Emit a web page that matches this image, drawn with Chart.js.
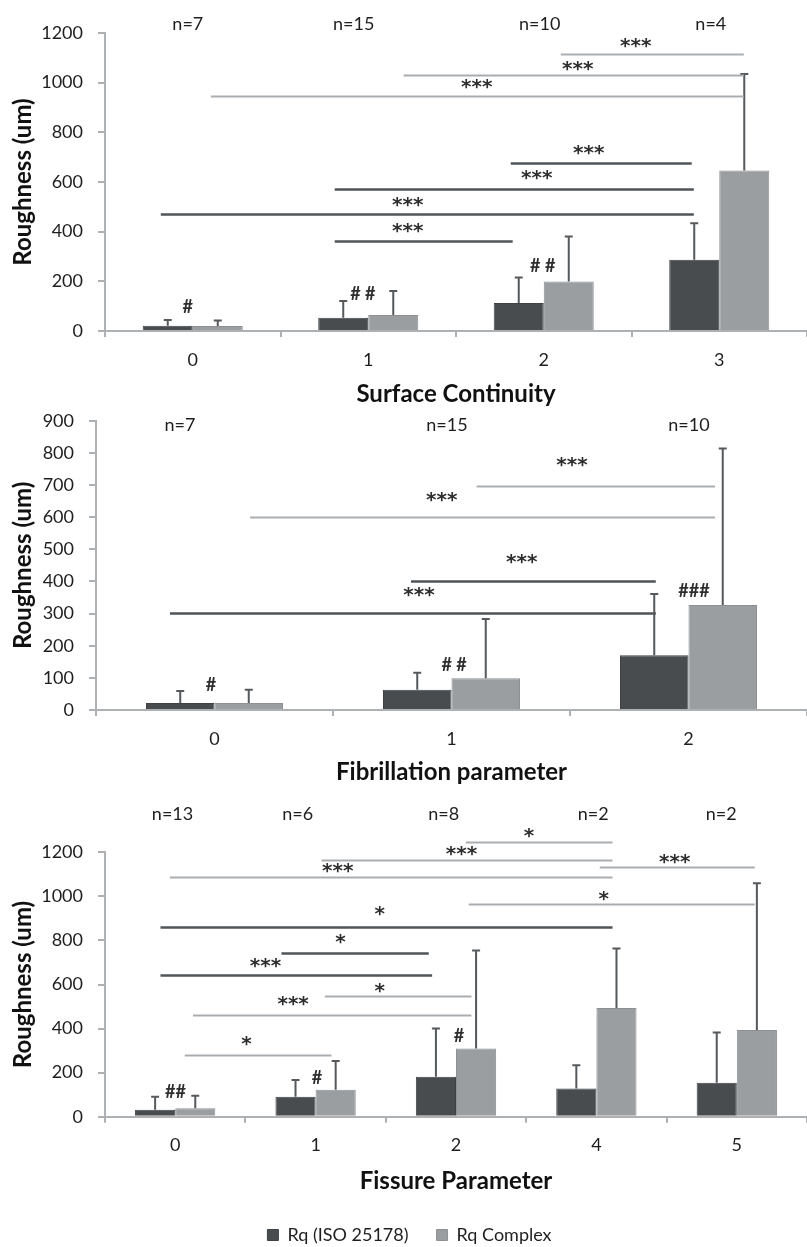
<!DOCTYPE html>
<html><head><meta charset="utf-8">
<script src="https://cdn.jsdelivr.net/npm/chart.js@4.4.1/dist/chart.umd.min.js"></script>
<style>
html,body{margin:0;padding:0;background:#fff;overflow:hidden;}
#wrap{position:relative;width:807px;height:1247px;overflow:hidden;background:#fff;}
canvas{position:absolute;left:0;}
</style></head><body>
<div id="wrap">
<canvas id="c1" width="807" height="410" style="top:0px"></canvas>
<canvas id="c2" width="807" height="395" style="top:395px"></canvas>
<canvas id="c3" width="807" height="464" style="top:790px"></canvas>
</div>
<script>
// ---------- DATA ----------
const seriesNames = ['Rq (ISO 25178)', 'Rq Complex'];

// Panel 1: Surface Continuity
const surfCats = ['0', '1', '2', '3'];
const surfRq   = [21, 53, 113, 287];
const surfRqSD = [23, 68, 102, 147];
const surfCx   = [20, 64, 199, 646];
const surfCxSD = [22, 97, 182, 389];
const surfN    = ['n=7', 'n=15', 'n=10', 'n=4'];
const surfNX   = [-0.028, 0.917, 1.977, 2.952];
const surfNY   = 1240;
// [x1, x2, y, tone, label, labelX, labelY]  (x in category units, y in um)
const surfSig = [
  [2.097, 3.140, 1114, 'L', '***', 2.524, 1160],
  [1.202, 3.140, 1031, 'L', '***', 2.194, 1068],
  [0.103, 3.140,  946, 'L', '***', 1.618,  995],
  [1.812, 2.843,  675, 'D', '***', 2.256,  729],
  [0.809, 2.855,  572, 'D', '***', 1.960,  628],
  [-0.182, 2.855, 470, 'D', '***', 1.225,  520],
  [0.809, 1.823,  362, 'D', '***', 1.225,  415]
];
// [text, x, y]
const surfHash = [['#', -0.028, 101], ['# #', 0.969, 153], ['# #', 1.994, 266]];

// Panel 2: Fibrillation parameter
const fibCats = ['0', '1', '2'];
const fibRq   = [22, 63, 170];
const fibRqSD = [37, 53, 191];
const fibCx   = [22, 99, 327];
const fibCxSD = [41, 184, 487];
const fibN    = ['n=7', 'n=15', 'n=10'];
const fibNX   = [-0.146, 0.981, 2.002];
const fibNY   = 887;
const fibSig = [
  [-0.188, 1.862, 303, 'D', '***', 0.863, 367],
  [0.829, 1.862, 401, 'D', '***', 1.296, 470],
  [0.150, 2.112, 600, 'L', '***', 0.959, 664],
  [1.106, 2.112, 696, 'L', '***', 1.508, 771]
];
const fibHash = [['#', -0.015, 82], ['# #', 1.011, 143], ['###', 2.023, 373]];

// Panel 3: Fissure Parameter
const fisCats = ['0', '1', '2', '4', '5'];
const fisRq   = [32, 90, 181, 128, 154];
const fisRqSD = [58, 76, 219, 106, 228];
const fisCx   = [38, 122, 309, 493, 393];
const fisCxSD = [57, 131, 445, 270, 667];
const fisN    = ['n=13', 'n=6', 'n=8', 'n=2', 'n=2'];
const fisNX   = [-0.019, 0.873, 1.913, 2.977, 3.889];
const fisNY   = 1377;
const fisSig = [
  [2.070, 3.115, 1246, 'L', '*',   2.519, 1286],
  [1.042, 3.115, 1166, 'L', '***', 2.039, 1206],
  [3.024, 4.128, 1132, 'L', '***', 3.558, 1171],
  [-0.038, 3.115, 1090, 'L', '***', 1.158, 1131],
  [2.091, 4.128,  965, 'L', '*',   3.053, 1000],
  [-0.105, 3.115, 859, 'D', '*',   1.457,  935],
  [0.757, 1.806,  743, 'D', '*',   1.177,  808],
  [-0.105, 1.830, 642, 'D', '***', 0.643,  698],
  [1.066, 2.110,  547, 'L', '*',   1.457,  585],
  [0.127, 2.110,  461, 'L', '***', 0.840,  525],
  [0.068, 1.113,  279, 'L', '*',   0.508,  344]
];
const fisHash = [['##', 0.002, 116], ['#', 1.009, 179], ['#', 2.021, 370]];

// ---------- STYLE ----------
const FONT = 'Lato, "Open Sans", sans-serif';
const DARK = '#484c4f', DARK_B = '#3e4245';
const LIGHT = '#9a9ea1', LIGHT_B = '#8d9194';
const AXIS = '#adb1b4';
const TXT = '#1e1e1e';
const SIG_D = '#4f5458', SIG_L = '#a9adb0';
const ERR = '#55595c';

function drawCentered(ctx, text, x, y, font, color) {
  ctx.font = font; ctx.fillStyle = color;
  ctx.textAlign = 'center'; ctx.textBaseline = 'alphabetic';
  const m = ctx.measureText(text);
  ctx.fillText(text, x, y + (m.actualBoundingBoxAscent - m.actualBoundingBoxDescent) / 2);
}

function annotPlugin(spec) {
  return {
    id: 'annot',
    afterDatasetsDraw(chart) {
      const ctx = chart.ctx, xs = chart.scales.x, ys = chart.scales.y;
      ctx.save();
      // error bars (upper only)
      [spec.rqSD, spec.cxSD].forEach((sd, di) => {
        const meta = chart.getDatasetMeta(di);
        const vals = chart.data.datasets[di].data;
        meta.data.forEach((bar, i) => {
          const yTop = ys.getPixelForValue(vals[i] + sd[i]);
          ctx.strokeStyle = ERR; ctx.lineWidth = 2;
          ctx.beginPath();
          ctx.moveTo(bar.x, bar.y); ctx.lineTo(bar.x, yTop);
          ctx.moveTo(bar.x - 4, yTop); ctx.lineTo(bar.x + 4, yTop);
          ctx.stroke();
        });
      });
      // significance lines
      spec.sig.forEach(s => {
        const [x1, x2, y, tone, label, lx, ly] = s;
        const py = Math.round(ys.getPixelForValue(y)) + 0.5;
        ctx.strokeStyle = tone === 'D' ? SIG_D : SIG_L;
        ctx.lineWidth = tone === 'D' ? 2.5 : 2;
        ctx.beginPath();
        ctx.moveTo(xs.getPixelForValue(x1), py);
        ctx.lineTo(xs.getPixelForValue(x2), py);
        ctx.stroke();
        drawCentered(ctx, label, xs.getPixelForValue(lx), ys.getPixelForValue(ly), 'bold 20px "DejaVu Sans"', '#2e2e2e');
      });
      // hash marks
      spec.hash.forEach(h => {
        drawCentered(ctx, h[0], xs.getPixelForValue(h[1]), ys.getPixelForValue(h[2]), 'bold 18px ' + FONT, '#2e2e2e');
      });
      // n labels
      spec.n.forEach((t, i) => {
        drawCentered(ctx, t, xs.getPixelForValue(spec.nX[i]), ys.getPixelForValue(spec.nY), '18px ' + FONT, TXT);
      });
      ctx.restore();
    }
  };
}

function build(id, spec) {
  return new Chart(document.getElementById(id), {
    type: 'bar',
    data: {
      labels: spec.cats,
      datasets: [
        { label: seriesNames[0], data: spec.rq, backgroundColor: DARK, borderColor: DARK_B, borderWidth: 1 },
        { label: seriesNames[1], data: spec.cx, backgroundColor: LIGHT, borderColor: LIGHT_B, borderWidth: 1 }
      ]
    },
    options: {
      responsive: false,
      animation: false,
      devicePixelRatio: 1,
      datasets: { bar: { categoryPercentage: spec.catPct, barPercentage: 1.0 } },
      layout: { padding: { top: spec.padTop, left: spec.padLeft, right: 0, bottom: 0 } },
      plugins: {
        tooltip: { enabled: false },
        legend: {
          display: spec.legend,
          position: 'bottom',
          labels: { boxWidth: 11, boxHeight: 11, padding: 28, color: TXT, font: { family: FONT, size: 18 } }
        }
      },
      scales: {
        x: {
          offset: true,
          grid: { display: true, offset: true, drawOnChartArea: false, drawTicks: true, tickLength: 6, color: AXIS, lineWidth: 2 },
          border: { display: true, color: AXIS, width: 2 },
          ticks: { color: TXT, padding: 12, font: { family: FONT, size: 18 } },
          title: { display: true, text: spec.xTitle, color: '#111', font: { family: FONT, size: 24, weight: 'bold' }, padding: { top: 0, bottom: spec.xTitlePad } },
          afterFit: s => { s.height = spec.xAxisH; }
        },
        y: {
          min: 0, max: spec.yMax,
          grid: { display: true, drawOnChartArea: false, drawTicks: true, tickLength: 7, color: AXIS, lineWidth: 2 },
          border: { display: true, color: AXIS, width: 2 },
          ticks: { stepSize: spec.yStep, color: TXT, padding: 15, font: { family: FONT, size: 18 }, callback: v => String(v) },
          title: { display: true, text: 'Roughness (um)', color: '#111', font: { family: FONT, size: 24, weight: 'bold' }, padding: { top: spec.yTitlePad, bottom: 0 } },
          afterFit: s => { s.width = spec.yAxisW; }
        }
      }
    },
    plugins: [annotPlugin(spec)]
  });
}

build('c1', {
  cats: surfCats, rq: surfRq, rqSD: surfRqSD, cx: surfCx, cxSD: surfCxSD,
  n: surfN, nX: surfNX, nY: surfNY, sig: surfSig, hash: surfHash,
  yMax: 1200, yStep: 200, xTitle: 'Surface Continuity', catPct: 0.57,
  padTop: 33, padLeft: 0, yAxisW: 105, xAxisH: 79, xTitlePad: 1, yTitlePad: 8.6, legend: false
});
build('c2', {
  cats: fibCats, rq: fibRq, rqSD: fibRqSD, cx: fibCx, cxSD: fibCxSD,
  n: fibN, nX: fibNX, nY: fibNY, sig: fibSig, hash: fibHash,
  yMax: 900, yStep: 100, xTitle: 'Fibrillation parameter', catPct: 0.578,
  padTop: 18.3, padLeft: 0, yAxisW: 96, xAxisH: 80, xTitlePad: 3.6, yTitlePad: 8.6, legend: false
});
build('c3', {
  cats: fisCats, rq: fisRq, rqSD: fisRqSD, cx: fisCx, cxSD: fisCxSD,
  n: fisN, nX: fisNX, nY: fisNY, sig: fisSig, hash: fisHash,
  yMax: 1200, yStep: 200, xTitle: 'Fissure Parameter', catPct: 0.572,
  padTop: 62.3, padLeft: 12, yAxisW: 93, xAxisH: 81.3, xTitlePad: 2.6, yTitlePad: -3.4, legend: true
});
</script>
</body></html>
